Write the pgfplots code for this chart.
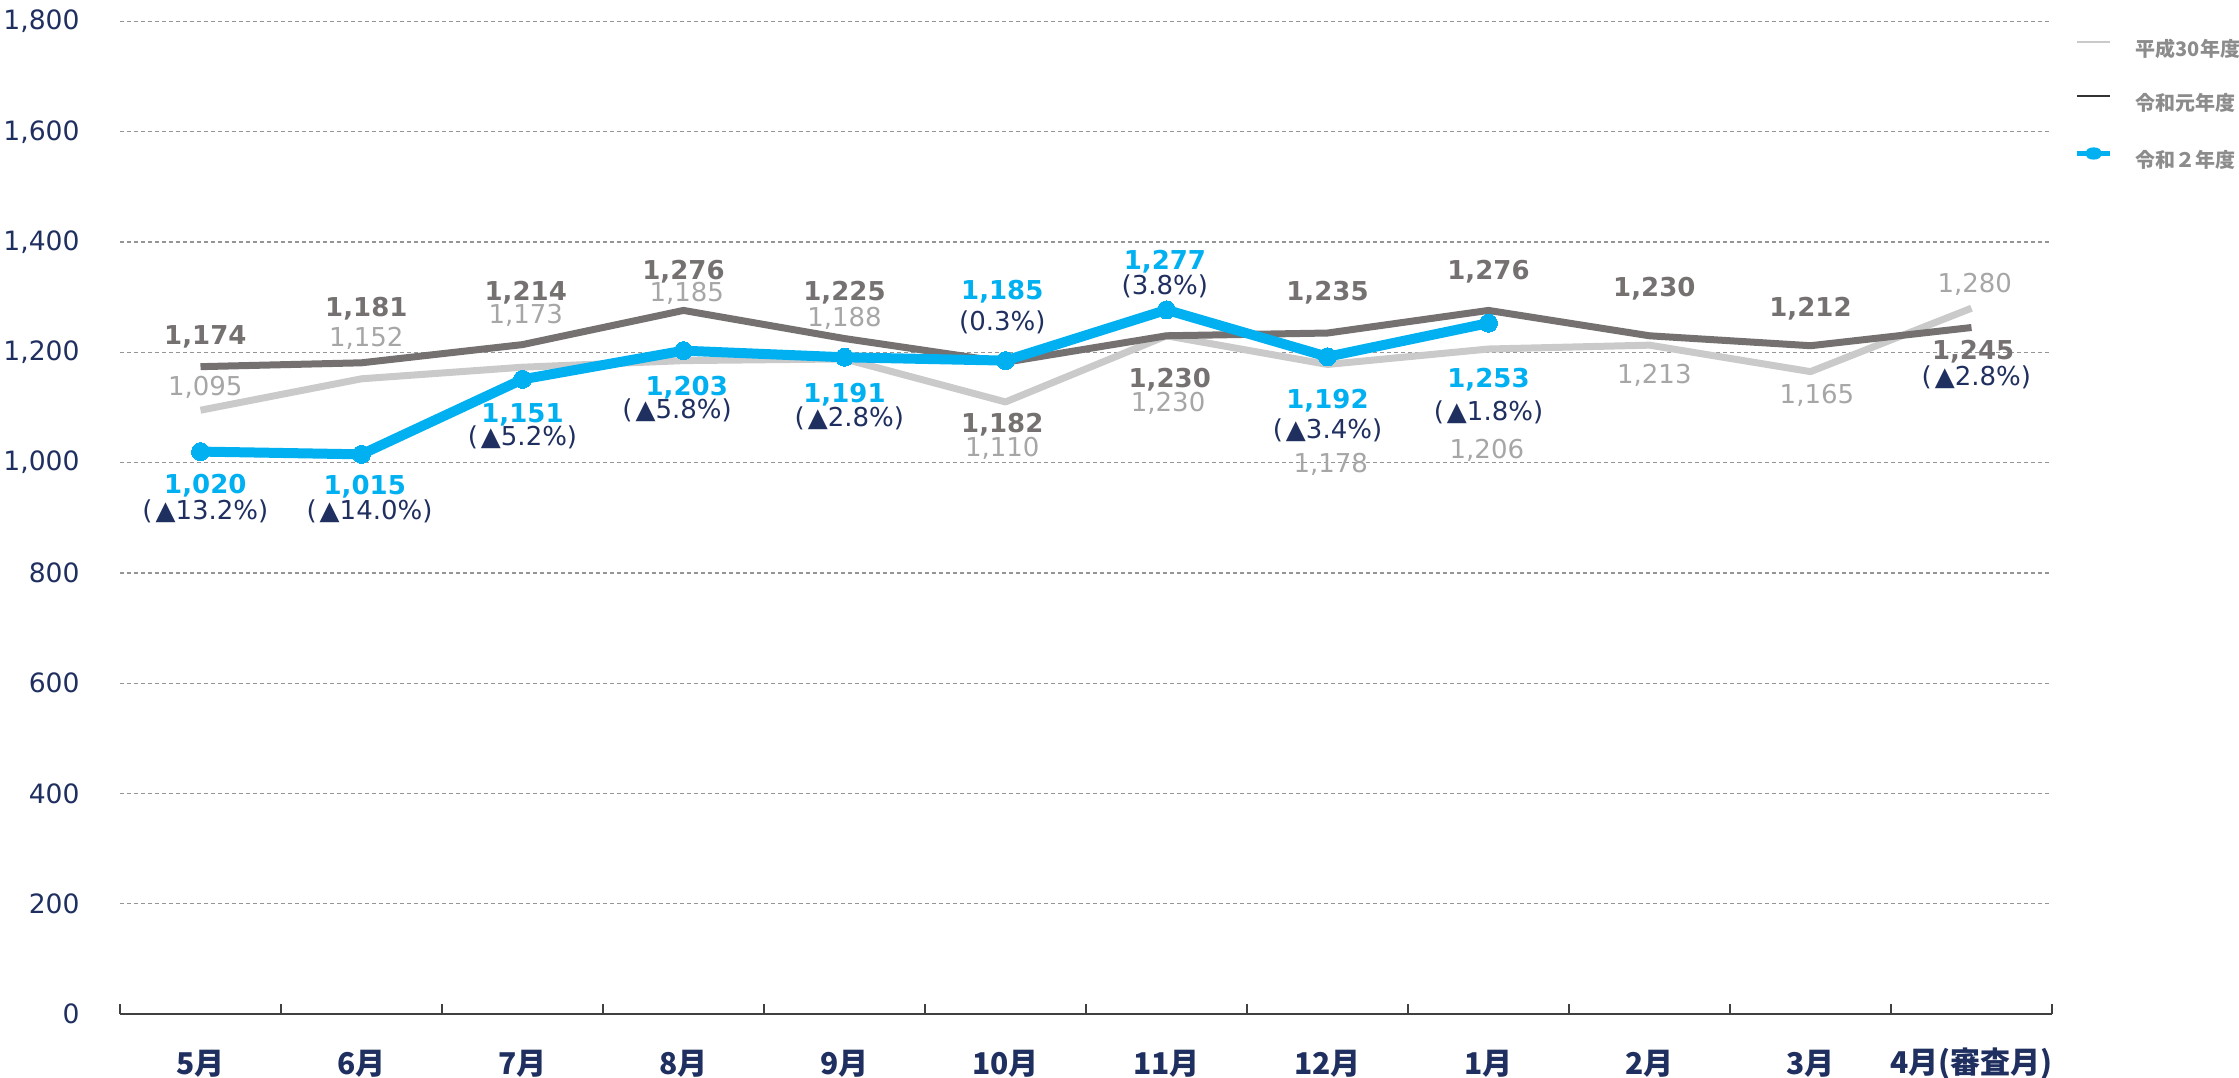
\documentclass[border=0pt]{standalone}
\usepackage{pgfplots}
\pgfplotsset{compat=1.18}
\usepackage{fontspec}
\setmainfont{DejaVu Sans}
\newfontfamily\jp{Noto Sans CJK JP}
\definecolor{hgray}{HTML}{CACACA}
\definecolor{hlab}{HTML}{A6A6A6}
\definecolor{rgray}{HTML}{767171}
\definecolor{rblue}{HTML}{00B0F0}
\definecolor{navy}{HTML}{1F2F5F}
\definecolor{gridc}{HTML}{959595}
\definecolor{leggray}{HTML}{8C8C8C}
\tikzset{
  labA/.style={font=\fontsize{13}{13}\selectfont, text=hlab, inner sep=0pt},
  labB/.style={font=\bfseries\fontsize{13}{13}\selectfont, text=rgray, inner sep=0pt},
  labC/.style={font=\bfseries\fontsize{13}{13}\selectfont, text=rblue, inner sep=0pt},
  pct/.style={font=\fontsize{13}{13}\selectfont, text=navy, inner sep=0pt},
}
\newcommand{\tri}{\kern1.5pt▲}
\pgfplotsset{
  legline/.style={legend image code/.code={\draw[##1] (0pt,3.5pt) -- (16.5pt,3.5pt);}},
  legblue/.style={legend image code/.code={\draw[##1] (0pt,3.5pt) -- (16.5pt,3.5pt); \fill[rblue] (8.25pt,3.5pt) ellipse (3pt and 1.8pt);}},
}
\begin{document}
\begin{tikzpicture}
\useasboundingbox (0,0) rectangle (1119.5pt,538.5pt);
\begin{axis}[
  at={(60pt,31.5pt)}, anchor=south west,
  scale only axis, width=966pt, height=496.25pt,
  xmin=-0.5, xmax=11.5, ymin=0, ymax=1800,
  axis x line*=bottom, axis y line*=left,
  y axis line style={draw=none},
  x axis line style={color=black!75, line width=1pt, -},
  xtick={0,...,11},
  xticklabels={5月,6月,7月,8月,9月,10月,11月,12月,1月,2月,3月,4月(審査月)},
  major x tick style={draw=none},
  minor xtick={-0.5,0.5,...,11.5},
  minor x tick style={color=black!75, line width=0.8pt},
  minor tick length=5pt,
  tick align=inside,
  ytick={0,200,...,1800},
  major y tick style={draw=none},
  ymajorgrids,
  major grid style={gridc, line width=0.65pt, dash pattern=on 2pt off 1.5pt},
  xticklabel style={font=\jp\bfseries\fontsize{15}{15}\selectfont, text=navy, anchor=center, yshift=-25pt},
  yticklabel style={font=\fontsize{13.3}{13.3}\selectfont, text=navy, anchor=east, inner sep=0pt, xshift=-20pt},
  /pgf/number format/assume math mode=true,
  /pgf/number format/1000 sep={,},
  clip=false,
  legend cell align=left,
  legend style={at={(rel axis cs:1.0115,0.983)}, anchor=north west, draw=none, fill=none,
    inner sep=0pt, row sep=17pt, column sep=11.5pt,
    nodes={inner sep=0pt, anchor=west},
    font=\jp\bfseries\fontsize{10}{10}\selectfont, text=leggray},
]
\addplot[hgray, line width=3.5pt, line join=round, forget plot] coordinates {
  (0,1095) (1,1152) (2,1173) (3,1185) (4,1188) (5,1110)
  (6,1230) (7,1178) (8,1206) (9,1213) (10,1165) (11,1280)};
\addplot[rgray, line width=3.5pt, line join=round, forget plot] coordinates {
  (0,1174) (1,1181) (2,1214) (3,1276) (4,1225) (5,1182)
  (6,1230) (7,1235) (8,1276) (9,1230) (10,1212) (11,1245)};
\addplot[rblue, line width=5pt, line join=round, mark=*, mark size=4.5pt,
  mark options={fill=rblue, draw=rblue, line width=0pt}, forget plot] coordinates {
  (0,1020) (1,1015) (2,1151) (3,1203) (4,1191) (5,1185)
  (6,1277) (7,1192) (8,1253)};

\addlegendimage{hgray, line width=1pt, legline}
\addlegendentry{平成30年度}
\addlegendimage{black!80, line width=1pt, legline}
\addlegendentry{令和元年度}
\addlegendimage{rblue, line width=2.5pt, legblue}
\addlegendentry{令和２年度}

% 5月
\node[labB] at (axis cs:0.03,1228) {1,174};
\node[labA] at (axis cs:0.03,1137) {1,095};
\node[labC] at (axis cs:0.03,958) {1,020};
\node[pct]  at (axis cs:0.03,912) {(\tri13.2\%)};
% 6月
\node[labB] at (axis cs:1.03,1280) {1,181};
\node[labA] at (axis cs:1.03,1226) {1,152};
\node[labC] at (axis cs:1.02,956) {1,015};
\node[pct]  at (axis cs:1.05,912) {(\tri14.0\%)};
% 7月
\node[labB] at (axis cs:2.02,1309) {1,214};
\node[labA] at (axis cs:2.02,1267) {1,173};
\node[labC] at (axis cs:2.0,1087) {1,151};
\node[pct]  at (axis cs:2.0,1045) {(\tri5.2\%)};
% 8月
\node[labB] at (axis cs:3.0,1347) {1,276};
\node[labA] at (axis cs:3.02,1307) {1,185};
\node[labC] at (axis cs:3.02,1135) {1,203};
\node[pct]  at (axis cs:2.96,1095) {(\tri5.8\%)};
% 9月
\node[labB] at (axis cs:4.0,1309) {1,225};
\node[labA] at (axis cs:4.0,1262) {1,188};
\node[labC] at (axis cs:4.0,1123) {1,191};
\node[pct]  at (axis cs:4.03,1081) {(\tri2.8\%)};
% 10月
\node[labC] at (axis cs:4.98,1310) {1,185};
\node[pct]  at (axis cs:4.98,1255) {(0.3\%)};
\node[labB] at (axis cs:4.98,1068) {1,182};
\node[labA] at (axis cs:4.98,1026) {1,110};
% 11月
\node[labC] at (axis cs:5.99,1365) {1,277};
\node[pct]  at (axis cs:5.99,1320) {(3.8\%)};
\node[labB] at (axis cs:6.02,1150) {1,230};
\node[labA] at (axis cs:6.01,1108) {1,230};
% 12月
\node[labB] at (axis cs:7.0,1308) {1,235};
\node[labC] at (axis cs:7.0,1113) {1,192};
\node[pct]  at (axis cs:7.0,1059) {(\tri3.4\%)};
\node[labA] at (axis cs:7.02,996) {1,178};
% 1月
\node[labB] at (axis cs:8.0,1346) {1,276};
\node[labC] at (axis cs:8.0,1150) {1,253};
\node[pct]  at (axis cs:8.0,1092) {(\tri1.8\%)};
\node[labA] at (axis cs:7.99,1023) {1,206};
% 2月
\node[labB] at (axis cs:9.03,1316) {1,230};
\node[labA] at (axis cs:9.03,1158) {1,213};
% 3月
\node[labB] at (axis cs:10.0,1280) {1,212};
\node[labA] at (axis cs:10.04,1122) {1,165};
% 4月
\node[labA] at (axis cs:11.02,1324) {1,280};
\node[labB] at (axis cs:11.01,1202) {1,245};
\node[pct]  at (axis cs:11.03,1155) {(\tri2.8\%)};
\end{axis}
\end{tikzpicture}
\end{document}
